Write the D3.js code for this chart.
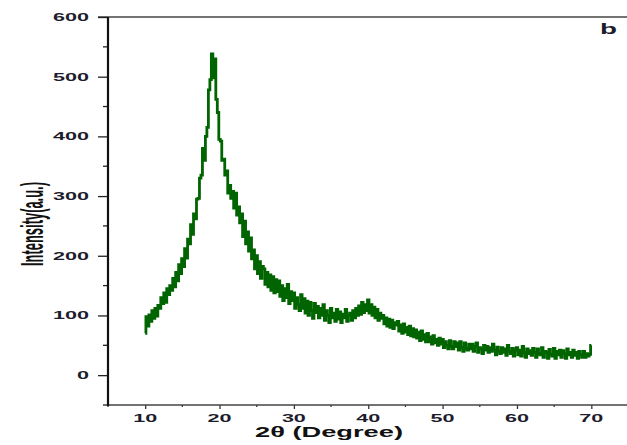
<!DOCTYPE html>
<html>
<head>
<meta charset="utf-8">
<script src="https://cdn.jsdelivr.net/npm/d3@7"></script>
<style>
  html, body { margin: 0; padding: 0; background: #fff; }
  svg { display: block; }
</style>
</head>
<body>
<svg id="chart" width="627" height="445"></svg>
<script>
// ---- data ----
const scanStart = 10;     // first 2θ value (degrees)
const scanStep = 0.2;     // 2θ step (degrees)
const intensity = [
  70, 98, 82, 101, 90, 108, 95, 112, 99, 117,
  112, 130, 120, 138, 122, 145, 135, 150, 142, 162,
  148, 172, 158, 185, 170, 195, 182, 212, 196, 228,
  220, 252, 236, 270, 262, 295, 296, 330, 335, 380,
  360, 400, 415, 478, 495, 538, 498, 530, 462, 440,
  395, 392, 360, 362, 335, 342, 305, 318, 296, 308,
  280, 305, 268, 282, 255, 270, 232, 258, 220, 240,
  208, 230, 195, 210, 178, 200, 170, 190, 162, 182,
  178, 152, 172, 148, 168, 142, 165, 138, 160, 140,
  158, 132, 150, 125, 145, 130, 152, 120, 140, 125,
  138, 112, 130, 118, 108, 135, 112, 128, 104, 124,
  100, 122, 108, 95, 120, 105, 115, 96, 112, 100,
  118, 92, 108, 100, 88, 112, 96, 104, 90, 110,
  94, 106, 88, 102, 96, 110, 90, 100, 104, 92,
  108, 96, 112, 100, 116, 102, 122, 105, 118, 108,
  126, 104, 118, 100, 114, 96, 110, 92, 104, 95,
  100, 86, 96, 82, 94, 80, 92, 78, 88, 84,
  90, 74, 84, 70, 86, 72, 80, 68, 82, 66,
  78, 64, 76, 62, 72, 58, 74, 60, 68, 56,
  70, 56, 64, 52, 66, 54, 60, 50, 62, 52,
  60, 46, 56, 50, 44, 58, 48, 44, 56, 48,
  54, 42, 56, 46, 40, 54, 45, 42, 52, 44,
  52, 40, 48, 54, 38, 46, 44, 36, 50, 42,
  48, 38, 46, 40, 52, 42, 34, 47, 40, 36,
  46, 38, 44, 33, 50, 40, 36, 45, 32, 42,
  46, 34, 42, 32, 48, 38, 30, 44, 36, 41,
  33, 45, 38, 30, 44, 36, 34, 46, 30, 40,
  38, 28, 43, 35, 32, 45, 28, 40, 34, 42,
  30, 41, 36, 28, 44, 34, 38, 30, 42, 33,
  38, 28, 40, 34, 30, 40, 30, 36, 32, 35,
  50
];
const xMajorTicks = [10, 20, 30, 40, 50, 60, 70];
const xMinorTicks = [5, 15, 25, 35, 45, 55, 65, 75];
const yMajorTicks = [0, 100, 200, 300, 400, 500, 600];
const yMinorTicks = [-50, 50, 150, 250, 350, 450, 550];
const xTitle = "2θ (Degree)";
const yTitle = "Intensity(a.u.)";
const panelLabel = "b";

// ---- layout ----
const svg = d3.select("#chart");
const pLeft = 108, pRight = 628.5, pTop = 17, pBottom = 405;
const x = d3.scaleLinear().domain([5, 75]).range([pLeft, pRight]);
const y = d3.scaleLinear().domain([-50, 600]).range([pBottom, pTop]);

const points = intensity.map((v, i) => [scanStart + i * scanStep, v]);

// curve
const line = d3.line()
  .x(d => x(d[0]))
  .y(d => y(d[1]))
  .curve(d3.curveStep);

svg.append("path")
  .datum(points)
  .attr("d", line)
  .attr("fill", "none")
  .attr("stroke", "#006400")
  .attr("stroke-width", 2.8)
  .attr("stroke-linejoin", "miter");

// top frame line
svg.append("line")
  .attr("x1", pLeft - 10).attr("x2", 627)
  .attr("y1", pTop).attr("y2", pTop)
  .attr("stroke", "#444").attr("stroke-width", 1.3);

// bottom axis
const gx = svg.append("g").attr("transform", `translate(0,${pBottom})`);
gx.call(d3.axisBottom(x).tickValues(xMajorTicks).tickSize(4).tickFormat(d3.format("d")))
  .call(g => g.select(".domain").remove());
gx.selectAll(".tick line").attr("stroke", "#333").attr("stroke-width", 1.3);
gx.selectAll(".tick text").remove();
gx.append("g").selectAll("line").data(xMinorTicks).join("line")
  .attr("x1", d => x(d)).attr("x2", d => x(d))
  .attr("y1", 0).attr("y2", 2)
  .attr("stroke", "#333").attr("stroke-width", 1.3);
gx.append("line").attr("x1", pLeft).attr("x2", 627).attr("y1", 0).attr("y2", 0)
  .attr("stroke", "#444").attr("stroke-width", 1.5);
gx.append("g").selectAll("text").data(xMajorTicks).join("text")
  .attr("x", d => x(d)).attr("y", 17)
  .attr("text-anchor", "middle")
  .attr("textLength", d => String(d).length * 12)
  .attr("lengthAdjust", "spacingAndGlyphs")
  .attr("font-family", "Liberation Sans, Arial, sans-serif")
  .attr("font-weight", "bold").attr("font-size", 11)
  .attr("fill", "#1c1c2c")
  .text(d => d);

// left axis
const gy = svg.append("g").attr("transform", `translate(${pLeft},0)`);
gy.call(d3.axisLeft(y).tickValues(yMajorTicks).tickSize(10).tickFormat(d3.format("d")))
  .call(g => g.select(".domain").remove());
gy.selectAll(".tick line").attr("stroke", "#222").attr("stroke-width", 1.3);
gy.selectAll(".tick text").remove();
gy.append("g").selectAll("line").data(yMinorTicks).join("line")
  .attr("x1", 0).attr("x2", -5)
  .attr("y1", d => y(d)).attr("y2", d => y(d))
  .attr("stroke", "#222").attr("stroke-width", 1.3);
gy.append("line").attr("x1", 0).attr("x2", 0).attr("y1", pTop).attr("y2", pBottom + 1)
  .attr("stroke", "#111").attr("stroke-width", 2.2);
gy.append("g").selectAll("text").data(yMajorTicks).join("text")
  .attr("x", -19).attr("y", d => y(d) + 4)
  .attr("text-anchor", "end")
  .attr("textLength", d => String(d).length * 12)
  .attr("lengthAdjust", "spacingAndGlyphs")
  .attr("font-family", "Liberation Sans, Arial, sans-serif")
  .attr("font-weight", "bold").attr("font-size", 11)
  .attr("fill", "#1c1c2c")
  .text(d => d);

// axis titles
svg.append("text")
  .attr("x", 255).attr("y", 437)
  .attr("textLength", 148)
  .attr("lengthAdjust", "spacingAndGlyphs")
  .attr("font-family", "Liberation Sans, Arial, sans-serif")
  .attr("font-weight", "bold").attr("font-size", 15)
  .attr("fill", "#111")
  .text(xTitle);

svg.append("text")
  .attr("transform", "translate(43,224) rotate(-90)")
  .attr("text-anchor", "middle")
  .attr("textLength", 84)
  .attr("lengthAdjust", "spacingAndGlyphs")
  .attr("font-family", "Liberation Sans Narrow, Liberation Sans, Arial, sans-serif")
  .attr("font-weight", "bold")
  .attr("font-size", 31)
  .attr("fill", "#111")
  .text(yTitle);

// panel label
svg.append("text")
  .attr("x", 600).attr("y", 34)
  .attr("textLength", 17)
  .attr("lengthAdjust", "spacingAndGlyphs")
  .attr("font-family", "Liberation Sans, Arial, sans-serif")
  .attr("font-weight", "bold").attr("font-size", 15)
  .attr("fill", "#1c1c2c")
  .text(panelLabel);
</script>
</body>
</html>
